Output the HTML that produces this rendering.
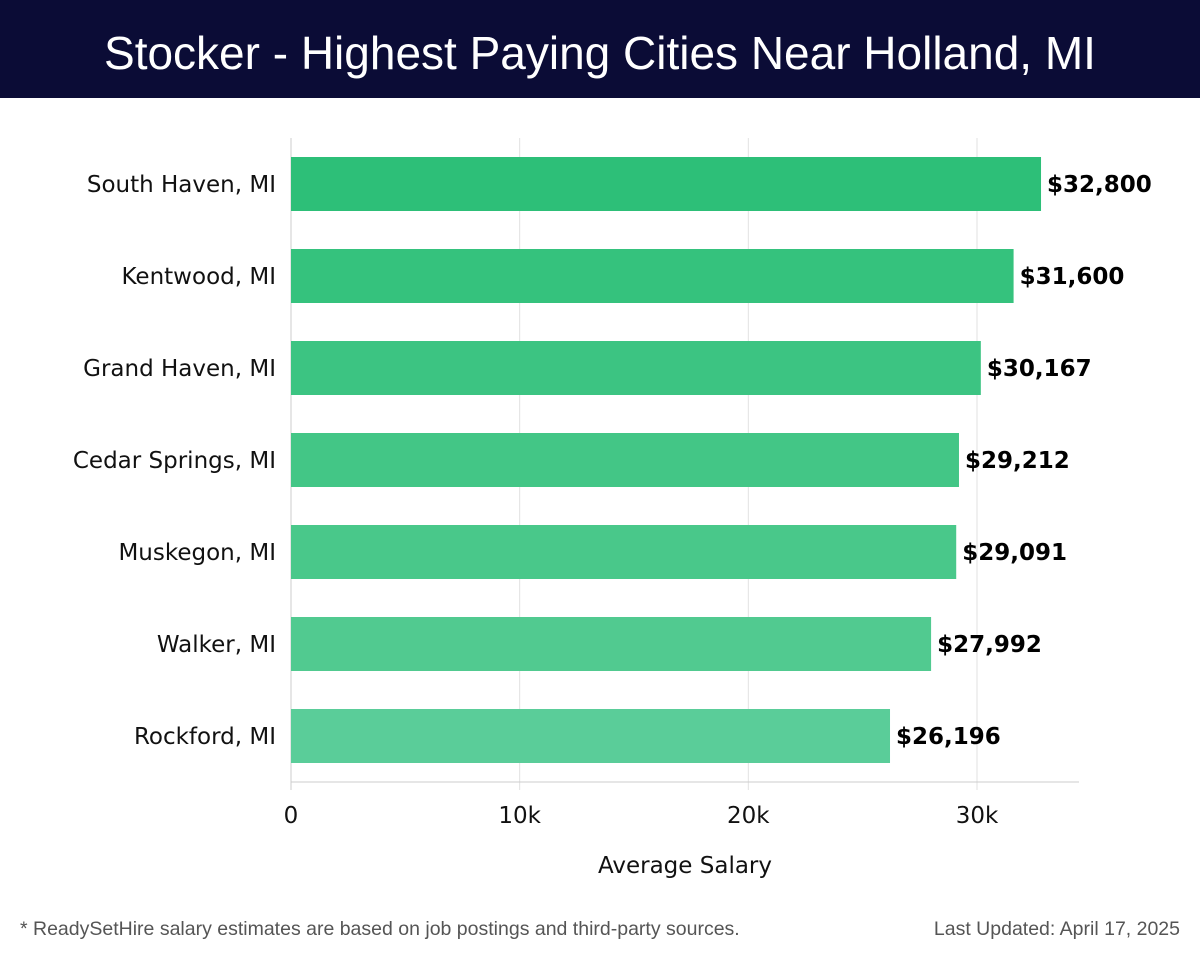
<!DOCTYPE html>
<html><head><meta charset="utf-8"><style>
body{margin:0;width:1200px;height:958px;background:#fff;font-family:"Liberation Sans","DejaVu Sans",sans-serif;overflow:hidden;position:relative}
#hdr{position:absolute;left:0;top:0;width:1200px;height:98px;background:#0b0c36;color:#fff;font-size:46px;text-align:center;line-height:106px;font-weight:300}
.foot{position:absolute;top:918px;font-size:19.5px;color:#555}
svg text{font-family:"DejaVu Sans",sans-serif}
</style></head><body>
<div id="hdr">Stocker - Highest Paying Cities Near Holland, MI</div>
<svg id="chart" width="1200" height="958" style="position:absolute;left:0;top:0"></svg>
<div class="foot" style="left:20px">* ReadySetHire salary estimates are based on job postings and third-party sources.</div>
<div class="foot" style="right:20px">Last Updated: April 17, 2025</div>
<script>
const categories=["South Haven, MI","Kentwood, MI","Grand Haven, MI","Cedar Springs, MI","Muskegon, MI","Walker, MI","Rockford, MI"];
const values=[32800,31600,30167,29212,29091,27992,26196];
const labels=["$32,800","$31,600","$30,167","$29,212","$29,091","$27,992","$26,196"];
const ticks=[0,10000,20000,30000];
const tickLabels=["0","10k","20k","30k"];
const colors=["#2dbf78","#35c27d","#3cc482","#43c686","#49c88a","#51ca90","#5acd99"];
const svg=document.getElementById('chart');const NS="http://www.w3.org/2000/svg";
const x0=291,pxPer=(977-291)/30000,plotTop=138,band=92;
const xs=v=>x0+v*pxPer;const yc=i=>184+i*band;
function mk(t,a,txt){const e=document.createElementNS(NS,t);for(const k in a)e.setAttribute(k,a[k]);if(txt!==undefined)e.textContent=txt;svg.appendChild(e);return e;}
ticks.forEach((t,i)=>{
 const g=mk('line',{x1:xs(t),x2:xs(t),y1:plotTop,y2:790,stroke:i==0?'#ccc':'#e2e2e2','stroke-width':1});
 
 
 const l=mk('text',{x:xs(t),y:823,'font-size':23,'text-anchor':'middle',fill:'#111'},tickLabels[i]);
 
 
});
const ax=mk('line',{x1:x0,x2:1079,y1:782,y2:782,stroke:'#ccc'});


categories.forEach((c,i)=>{
 const r=mk('rect',{x:x0,y:yc(i)-27,width:xs(values[i])-x0,height:54,fill:colors[i]});
 
 
 const t=mk('text',{x:276,y:yc(i)+8,'font-size':23,'text-anchor':'end',fill:'#111'},c);
 
 
 const v=mk('text',{x:xs(values[i])+6,y:yc(i)+8,'font-size':23,'font-weight':'bold',fill:'#000'},labels[i]);
 
 
});
const xt=mk('text',{x:685,y:873,'font-size':23,'text-anchor':'middle',fill:'#111'},'Average Salary');


</script>
</body></html>
